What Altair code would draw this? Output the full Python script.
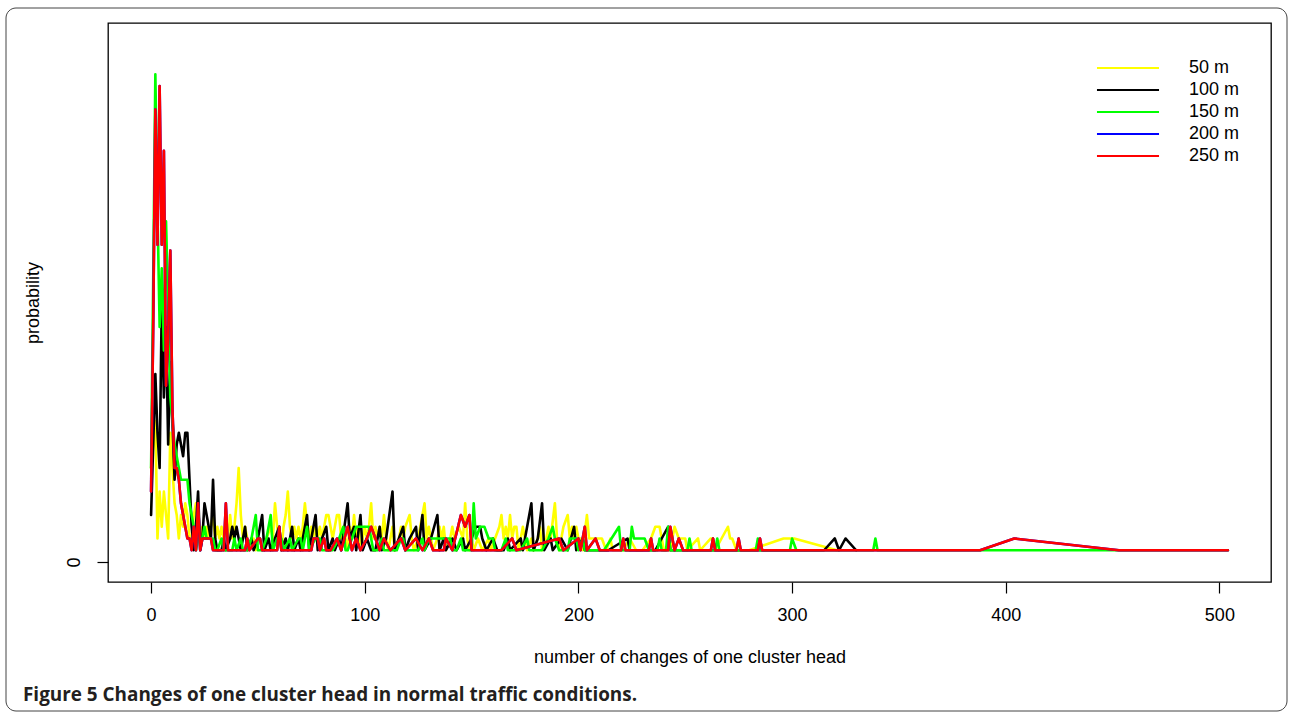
import altair as alt
import pandas as pd

# ---------------- data (counts; y axis only labels 0) -------------
SERIES = ["50 m", "100 m", "150 m", "200 m", "250 m"]
COLORS = ["#ffff00", "#000000", "#00ff00", "#0000ff", "#ff0000"]

yellow = [(0, 8), (1, 10), (2, 12), (3, 2), (4, 6), (5, 3), (6, 6), (7, 4), (8, 2), (9, 11),
          (10, 8), (11, 5), (12, 4), (13, 2), (14, 4), (15, 3), (16, 5), (17, 4), (18, 2), (19, 2),
          (20, 4), (21, 5), (22, 3), (23, 2), (24, 3), (25, 2), (26, 3), (27, 2), (28, 3), (29, 4),
          (30, 2), (31, 3), (32, 2), (33, 3), (34, 2), (35, 3), (36, 2), (37, 4), (38, 2), (39, 3),
          (40, 5), (41, 8), (42, 4), (43, 2), (44, 3), (45, 2), (46, 1), (47, 2), (48, 2), (49, 1),
          (50, 2), (51, 2), (52, 1), (54, 2), (56, 3), (57, 2), (58, 5), (59, 3), (60, 2), (61, 1),
          (62, 3), (63, 4), (64, 6), (65, 3), (66, 2), (67, 3), (68, 2), (69, 3), (70, 2), (71, 3),
          (72, 5), (73, 3), (74, 2), (75, 3), (76, 2), (77, 3), (78, 2), (79, 3), (80, 2), (81, 3),
          (82, 4), (83, 4), (84, 3), (85, 2), (86, 3), (87, 4), (88, 4), (89, 2), (90, 3), (91, 2),
          (92, 1), (93, 3), (94, 2), (95, 4), (96, 2), (97, 3), (98, 1), (99, 2), (100, 3), (101, 2),
          (102, 3), (103, 5), (104, 2), (105, 3), (106, 2), (107, 3), (108, 2), (109, 4), (110, 2),
          (111, 1), (112, 2), (113, 3), (114, 1), (116, 2), (117, 3), (118, 2), (119, 3), (121, 4),
          (122, 2), (123, 1), (125, 2), (126, 3), (128, 5), (129, 2), (130, 3), (131, 2), (132, 1),
          (134, 2), (135, 3), (136, 2), (137, 3), (138, 1), (140, 2), (141, 3), (142, 2), (144, 3),
          (146, 2), (147, 5), (148, 2), (149, 1), (150, 2), (151, 1), (153, 2), (155, 1), (158, 2),
          (159, 1), (161, 2), (163, 3), (164, 4), (165, 2), (166, 3), (167, 2), (168, 4), (169, 2),
          (170, 3), (171, 3), (172, 1), (174, 3), (175, 2), (176, 1), (178, 2), (179, 1), (181, 2),
          (182, 3), (183, 1), (185, 2), (186, 3), (187, 2), (189, 5), (190, 2), (191, 1), (193, 3),
          (195, 4), (196, 2), (197, 3), (198, 2), (199, 3), (200, 2), (201, 2), (202, 1), (204, 4),
          (205, 2), (206, 2), (207, 2), (208, 2), (209, 2), (210, 2), (211, 2), (213, 1), (215, 2),
          (216, 1), (221, 1), (224, 2), (227, 1), (230, 1), (234, 2), (236, 3), (237, 3), (238, 3),
          (240, 1), (243, 1), (245, 3), (247, 2), (248, 2), (250, 2), (251, 1), (256, 2), (257, 1),
          (262, 2), (263, 2), (264, 1), (270, 3), (271, 2), (272, 2), (274, 1), (280, 1), (296, 2),
          (301, 2), (321, 1)]

black = [(0, 4), (1, 10), (2, 16), (3, 11), (4, 8), (5, 22), (6, 14), (7, 20), (8, 10), (9, 17),
         (10, 12), (11, 7), (12, 10), (13, 11), (14, 10), (15, 9), (16, 11), (17, 11), (18, 7),
         (19, 3), (20, 1), (21, 3), (22, 6), (23, 1), (24, 2), (25, 5), (26, 4), (27, 3), (28, 2),
         (29, 7), (30, 2), (31, 1), (33, 1), (34, 2), (35, 1), (37, 2), (38, 3), (39, 2), (40, 3),
         (41, 2), (42, 1), (44, 3), (45, 1), (47, 2), (48, 1), (50, 2), (52, 4), (53, 1), (55, 2),
         (56, 1), (58, 2), (60, 3), (61, 1), (63, 2), (64, 1), (66, 3), (67, 1), (69, 2), (70, 1),
         (73, 4), (74, 1), (75, 2), (77, 4), (78, 1), (80, 2), (82, 3), (83, 1), (85, 2), (86, 1),
         (88, 2), (89, 1), (92, 5), (93, 2), (95, 3), (96, 1), (98, 4), (99, 1), (101, 2), (103, 1),
         (105, 1), (107, 3), (108, 1), (110, 2), (113, 6), (114, 1), (116, 2), (118, 3), (119, 1),
         (121, 2), (124, 3), (125, 1), (127, 4), (128, 1), (131, 2), (134, 4), (135, 1), (137, 2),
         (138, 1), (141, 2), (143, 1), (146, 2), (147, 1), (150, 2), (152, 3), (154, 3), (155, 2),
         (157, 1), (160, 2), (162, 1), (165, 1), (167, 2), (168, 1), (173, 2), (174, 1), (178, 5),
         (179, 1), (181, 2), (183, 5), (184, 1), (187, 2), (188, 1), (192, 2), (195, 1), (198, 3),
         (199, 1), (202, 2), (203, 1), (207, 1), (214, 1), (223, 2), (224, 1), (236, 1), (242, 3),
         (243, 1), (246, 1), (315, 1), (320, 2), (322, 1), (325, 2), (330, 1)]

green = [(0, 8), (1, 24), (2, 41.5), (3, 30), (4, 20), (5, 25), (6, 18), (7, 29), (8, 22), (9, 14),
         (10, 12), (11, 10), (12, 9), (13, 8), (14, 7), (15, 7), (16, 7), (17, 7), (18, 5), (19, 4),
         (20, 3), (21, 1), (22, 2), (23, 2), (24, 2), (25, 3), (26, 2), (27, 2), (28, 2), (29, 2),
         (30, 1), (31, 1), (33, 2), (34, 1), (36, 1), (38, 1), (39, 2), (40, 1), (42, 2), (43, 1),
         (45, 1), (47, 2), (49, 4), (50, 1), (52, 1), (54, 2), (56, 4), (57, 1), (59, 2), (61, 2),
         (62, 1), (65, 2), (66, 1), (69, 2), (70, 2), (71, 1), (73, 3), (74, 1), (77, 2), (78, 2),
         (79, 2), (80, 1), (82, 1), (85, 1), (88, 2), (90, 3), (91, 1), (92, 1), (94, 2), (96, 3),
         (97, 3), (98, 3), (99, 3), (100, 3), (101, 3), (102, 3), (103, 2), (104, 1), (106, 1),
         (108, 2), (109, 1), (112, 1), (115, 1), (117, 2), (118, 2), (119, 1), (122, 1), (125, 1),
         (127, 2), (128, 1), (130, 2), (131, 2), (132, 2), (133, 2), (134, 2), (135, 2), (136, 2),
         (137, 2), (138, 2), (139, 2), (140, 2), (141, 1), (143, 1), (145, 2), (146, 1), (150, 1),
         (151, 5), (152, 2), (154, 3), (156, 3), (158, 2), (160, 2), (161, 1), (164, 1), (166, 2),
         (167, 1), (170, 1), (173, 1), (176, 2), (177, 1), (180, 1), (183, 1), (186, 2), (188, 3),
         (189, 2), (191, 1), (193, 1), (195, 1), (196, 2), (198, 2), (199, 2), (200, 1), (202, 2),
         (203, 1), (205, 1), (212, 1), (219, 3), (220, 1), (224, 1), (225, 3), (226, 2), (229, 2),
         (231, 2), (233, 1), (237, 1), (238, 2), (239, 1), (241, 1), (242, 3), (243, 1), (251, 1),
         (252, 2), (253, 1), (264, 1), (265, 2), (266, 1), (283, 1), (284, 2), (285, 1), (299, 1),
         (300, 2), (302, 1), (338, 1), (339, 2), (340, 1), (504, 1)]

red = [(0, 6), (1, 20), (2, 38.5), (3, 27), (4, 40.5), (5, 27), (6, 35), (7, 15), (8, 19), (9, 26.5),
       (10, 13), (11, 8), (12, 8), (13, 7), (14, 5), (15, 4), (16, 3), (17, 2), (18, 2), (19, 1),
       (20, 3), (21, 1), (22, 5), (23, 1), (24, 2), (25, 2), (26, 2), (27, 2), (28, 2), (29, 1),
       (34, 1), (35, 5), (36, 1), (44, 1), (45, 2), (46, 1), (50, 2), (51, 2), (52, 1), (59, 1),
       (60, 3), (61, 1), (75, 1), (76, 2), (77, 2), (78, 2), (79, 1), (81, 2), (82, 1), (84, 1),
       (87, 2), (89, 1), (92, 3), (94, 1), (96, 2), (98, 1), (101, 2), (103, 3), (105, 2), (107, 1),
       (109, 2), (112, 1), (117, 2), (119, 1), (124, 2), (127, 1), (130, 2), (132, 1), (137, 1),
       (138, 2), (141, 1), (145, 4), (147, 3), (149, 4), (150, 1), (164, 1), (169, 2), (171, 1),
       (191, 2), (193, 1), (200, 2), (201, 1), (203, 3), (204, 1), (208, 2), (210, 1), (220, 1),
       (221, 2), (222, 1), (233, 1), (234, 2), (235, 1), (242, 1), (243, 3), (245, 1), (247, 2),
       (249, 1), (262, 1), (263, 2), (264, 1), (274, 1), (275, 2), (276, 1), (284, 1), (285, 2),
       (286, 1), (388, 1), (404, 2), (453, 1), (504, 1)]

# the 200 m curve coincides with the 250 m one (drawn underneath it)
blue = list(red)

X_TICKS = [0, 100, 200, 300, 400, 500]
Y_TICKS = [0]
CAPTION = "Figure 5 Changes of one cluster head in normal traffic conditions."

rows = []
for name, pts in zip(SERIES, [yellow, black, green, blue, red]):
    for x, c in pts:
        rows.append({"series": name, "x": x, "p": c})
df = pd.DataFrame(rows)

# ---------------- chart -------------
FONT = "Liberation Sans"
FS = 18
xscale = alt.Scale(domain=[-20.16, 524.16], nice=False, zero=False)
yscale = alt.Scale(domain=[-1.702, 45.87], nice=False, zero=False)
cscale = alt.Scale(domain=SERIES, range=COLORS)

xaxis = alt.Axis(values=X_TICKS, title="number of changes of one cluster head", grid=False,
                 domain=False, tickSize=11, tickColor="#000", tickWidth=1.2,
                 labelFontSize=FS, labelFont=FONT, labelColor="#000", labelPadding=13,
                 labelFlush=False, labelOverlap=False, format="d",
                 titleFontSize=FS, titleFont=FONT, titleFontWeight="normal", titleColor="#000",
                 titlePadding=24)
yaxis = alt.Axis(values=Y_TICKS, title="probability", grid=False, domain=False,
                 tickSize=11, tickColor="#000", tickWidth=1.2, labelAngle=-90,
                 labelFontSize=FS, labelFont=FONT, labelColor="#000", labelPadding=14,
                 titleFontSize=FS, titleFont=FONT, titleFontWeight="normal", titleColor="#000",
                 titlePadding=23)
legend = alt.Legend(title=None, orient="none", legendX=1011, legendY=36, padding=0,
                    symbolType="M-5,0L5,0", symbolSize=154, symbolStrokeWidth=2,
                    labelFontSize=FS, labelFont=FONT, labelColor="#000", labelOffset=52,
                    rowPadding=4)


def line(name):
    return alt.Chart(df).transform_filter(alt.datum.series == name).mark_line(
        strokeWidth=2.6, strokeJoin="round", strokeCap="round", clip=True
    ).encode(
        x=alt.X("x:Q", scale=xscale, axis=xaxis),
        y=alt.Y("p:Q", scale=yscale, axis=yaxis),
        color=alt.Color("series:N", scale=cscale, legend=legend),
    )


one = alt.Data(values=[{"k": 1}])
border = alt.Chart(one).mark_rect(
    fillOpacity=0, stroke="#444", strokeWidth=1, cornerRadius=10
).encode(x=alt.value(-102), x2=alt.value(1179), y=alt.value(-15), y2=alt.value(688))

caption = alt.Chart(one).mark_text(
    align="left", baseline="middle", font="Open Sans", fontSize=18.9, fontWeight="bold",
    color="#231f20"
).encode(x=alt.value(-85), y=alt.value(672), text=alt.value(CAPTION))

chart = alt.layer(
    border, *[line(s) for s in SERIES], caption
).properties(
    width=1163, height=559,
    padding={"left": 108, "top": 23, "right": 18, "bottom": 131},
    autosize=alt.AutoSizeParams(type="none"),
    background="white",
).configure_view(stroke="#000", strokeWidth=1.3)

chart.save("out.html", embed_options={"renderer": "svg", "actions": False})
